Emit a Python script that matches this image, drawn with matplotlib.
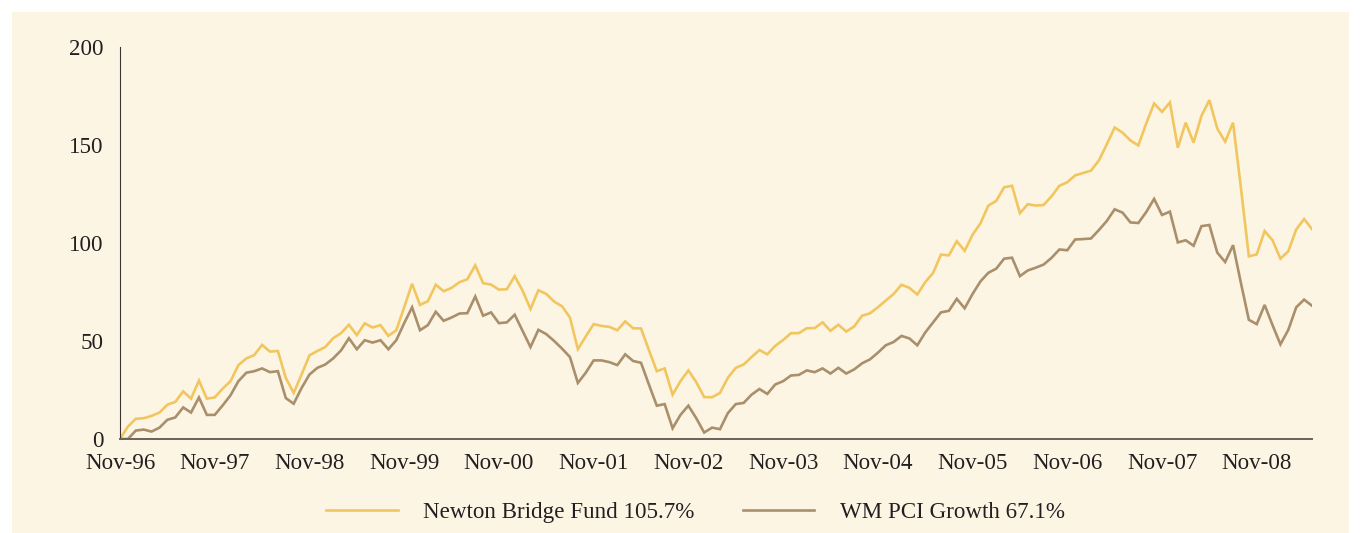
import matplotlib
matplotlib.use("Agg")
import matplotlib.pyplot as plt
import numpy as np
from matplotlib.patches import Rectangle

# monthly cumulative performance (%), Nov-96 .. Jun-09
fund = [
    0.0, 6.3, 10.3, 10.6, 11.8, 13.5, 17.5, 18.9, 24.3, 20.6, 29.8, 20.6,
    21.2, 25.7, 29.5, 37.7, 41.1, 42.8, 48.0, 44.6, 44.9, 31.2, 23.5, 32.9,
    42.7, 44.9, 46.9, 51.4, 54.0, 58.3, 53.0, 59.0, 56.9, 58.1, 52.6, 55.5,
    67.2, 79.2, 68.4, 70.3, 78.7, 75.4, 77.1, 80.0, 81.5, 88.6, 79.5, 78.8,
    76.2, 76.4, 83.1, 75.7, 66.3, 75.9, 74.0, 70.1, 67.7, 62.0, 45.8, 52.3,
    58.6, 57.7, 57.2, 55.5, 60.0, 56.5, 56.4, 45.4, 34.6, 36.0, 22.6, 29.5,
    35.0, 29.0, 21.4, 21.3, 23.5, 31.2, 36.3, 38.0, 41.8, 45.4, 43.2, 47.5,
    50.5, 54.0, 54.0, 56.5, 56.6, 59.5, 55.2, 58.3, 54.8, 57.4, 62.9, 64.1,
    67.2, 70.6, 74.0, 78.7, 77.1, 73.7, 80.0, 84.7, 94.1, 93.7, 100.9, 96.0,
    104.2, 110.0, 119.1, 121.5, 128.4, 129.2, 115.2, 119.8, 119.1, 119.4, 123.8, 129.2,
    131.0, 134.5, 135.7, 136.9, 142.1, 150.3, 158.9, 156.3, 152.3, 149.8, 161.0, 171.2,
    166.9, 171.7, 148.6, 161.4, 151.2, 164.9, 172.9, 158.4, 151.7, 161.4, 128.0, 93.2,
    94.2, 106.1, 101.4, 92.0, 95.8, 106.9, 112.2, 107.1,
]
sector = [
    0.0, 0.0, 4.3, 4.8, 3.8, 5.8, 9.8, 11.0, 16.1, 13.5, 21.2, 12.3,
    12.3, 17.1, 22.3, 29.5, 33.8, 34.6, 36.0, 34.1, 34.6, 20.9, 18.0, 26.0,
    32.9, 36.3, 38.0, 41.1, 45.2, 51.4, 45.8, 50.4, 49.2, 50.4, 45.8, 50.4,
    59.1, 67.2, 55.5, 58.1, 64.9, 60.3, 62.0, 64.0, 64.2, 72.7, 62.9, 64.6,
    59.1, 59.5, 63.4, 55.2, 46.9, 55.7, 53.5, 50.0, 46.1, 41.8, 28.6, 33.8,
    40.1, 40.1, 39.2, 37.7, 43.2, 39.8, 38.9, 27.8, 17.0, 17.8, 5.5, 12.3,
    17.0, 10.6, 3.3, 5.8, 5.0, 13.2, 17.8, 18.4, 22.6, 25.5, 23.0, 27.8,
    29.5, 32.4, 32.7, 35.0, 34.1, 36.0, 33.4, 36.3, 33.4, 35.5, 38.6, 40.6,
    44.0, 47.8, 49.5, 52.6, 51.3, 47.8, 54.3, 59.5, 64.6, 65.4, 71.5, 66.7,
    74.0, 80.4, 84.8, 86.9, 92.0, 92.5, 83.1, 86.0, 87.4, 89.0, 92.4, 96.7,
    96.3, 101.8, 102.0, 102.3, 106.6, 111.2, 117.2, 115.5, 110.5, 110.2, 115.8, 122.5,
    114.3, 116.0, 100.3, 101.4, 98.6, 108.6, 109.2, 95.1, 90.3, 98.9, 79.5, 60.8,
    58.6, 68.4, 58.1, 48.3, 55.7, 67.2, 71.1, 68.0,
]
tick_labels = ["Nov-96", "Nov-97", "Nov-98", "Nov-99", "Nov-00", "Nov-01", "Nov-02",
               "Nov-03", "Nov-04", "Nov-05", "Nov-06", "Nov-07", "Nov-08"]
y_ticks = [0, 50, 100, 150, 200]
labels = ["Newton Bridge Fund 105.7%", "WM PCI Growth 67.1%"]

bg = "#fdf5e4"
yellow = "#f1c65e"
brown = "#a98f6b"
text_col = "#231f20"

plt.rcParams["font.family"] = ["Liberation Serif", "DejaVu Serif"]

fig = plt.figure(figsize=(13.61, 5.33), dpi=100)
fig.patch.set_facecolor("white")
fig.add_artist(Rectangle((12 / 1361, 0), 1337 / 1361, 521 / 533,
                         transform=fig.transFigure, facecolor=bg, edgecolor="none", zorder=0))

ax = fig.add_axes([120 / 1361, 94 / 533, 1192 / 1361, 392 / 533])
ax.set_facecolor("none")

x = np.arange(len(fund))
ax.plot(x, fund, color=yellow, lw=1.9, label=labels[0], solid_joinstyle="miter")
ax.plot(x, sector, color=brown, lw=1.9, label=labels[1], solid_joinstyle="miter")

ax.set_xlim(0, len(fund) - 1)
ax.set_ylim(0, 200)
ax.set_xticks(np.arange(0, 12 * len(tick_labels), 12))
ax.set_xticklabels(tick_labels)
ax.set_yticks(y_ticks)
ax.tick_params(axis="both", length=0, labelsize=16.6, colors=text_col)
ax.tick_params(axis="x", pad=10)
ax.tick_params(axis="y", pad=12)
for lbl in ax.get_yticklabels():
    lbl.set_va("center_baseline")

for side in ["top", "right"]:
    ax.spines[side].set_visible(False)
ax.spines["left"].set_color("#3a3532")
ax.spines["left"].set_linewidth(0.8)
ax.spines["bottom"].set_color("#6b6259")
ax.spines["bottom"].set_linewidth(1.4)

fig.legend(loc="center", bbox_to_anchor=(0.511, 0.039), ncol=2, frameon=False,
           fontsize=16.6, handlelength=3.1, handletextpad=1.1, columnspacing=2.1,
           labelcolor=text_col)

fig.savefig("out.png", dpi=100, facecolor=fig.get_facecolor())
